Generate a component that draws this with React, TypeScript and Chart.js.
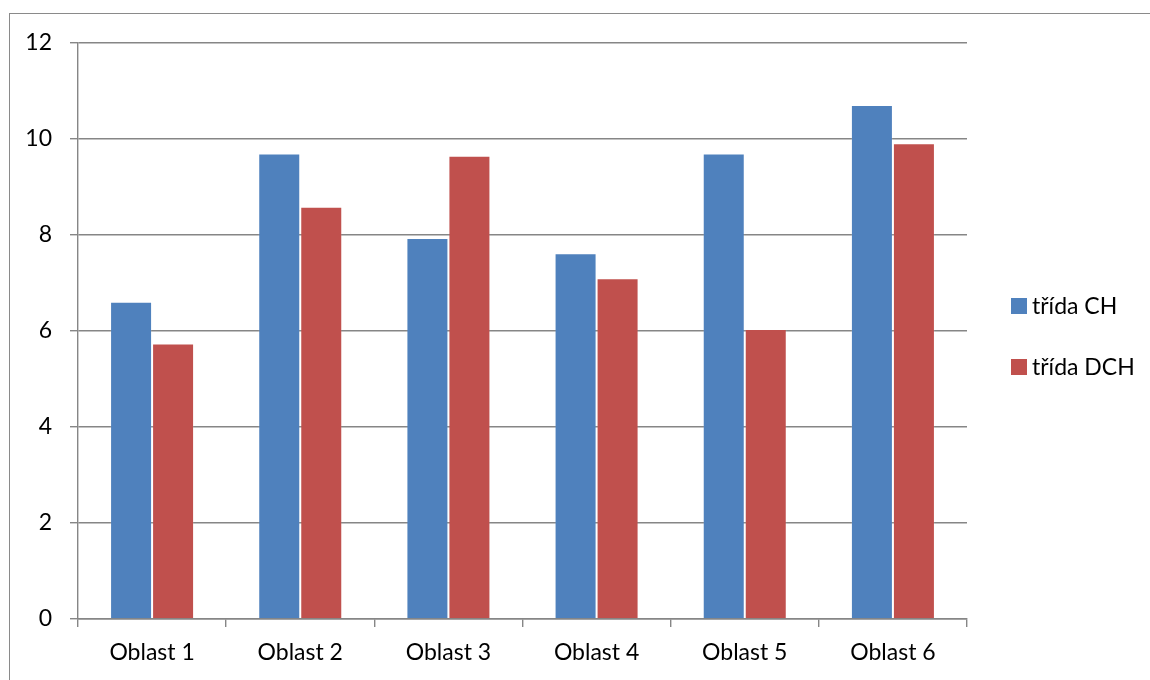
import React, { useEffect, useRef } from "react";
import { Chart, registerables } from "chart.js";

Chart.register(...registerables);

const categories = ["Oblast 1", "Oblast 2", "Oblast 3", "Oblast 4", "Oblast 5", "Oblast 6"];
const tridaCH = [6.61, 9.7, 7.94, 7.62, 9.7, 10.71];
const tridaDCH = [5.74, 8.59, 9.65, 7.1, 6.04, 9.91];
const seriesNames = ["třída CH", "třída DCH"];
const seriesColors = ["#4F81BD", "#C0504D"];

const FONT = "Lato, 'Open Sans', sans-serif";
const GRID = "#868686";

const legendPlugin = {
  id: "sideLegend",
  afterDraw(chart: any) {
    const ctx = chart.ctx;
    const x = chart.chartArea.right + 44;
    const ys = [306, 367];
    ctx.save();
    chart.data.datasets.forEach((ds: any, i: number) => {
      const y = ys[i];
      ctx.fillStyle = ds.backgroundColor;
      ctx.fillRect(x, y - 8, 16, 16);
      ctx.fillStyle = "#000";
      ctx.font = `23px ${FONT}`;
      ctx.textBaseline = "middle";
      ctx.textAlign = "left";
      ctx.fillText(ds.label, x + 21, y + 1);
    });
    ctx.restore();
  },
};

export default function App() {
  const ref = useRef<HTMLCanvasElement | null>(null);
  useEffect(() => {
    if (!ref.current) return;
    const chart = new Chart(ref.current, {
      type: "bar",
      data: {
        labels: categories,
        datasets: [
          {
            label: seriesNames[0],
            data: tridaCH,
            backgroundColor: seriesColors[0],
            borderColor: "rgba(255,255,255,0.12)",
            borderWidth: 1,
            barPercentage: 1,
            categoryPercentage: 0.567,
          },
          {
            label: seriesNames[1],
            data: tridaDCH,
            backgroundColor: seriesColors[1],
            borderColor: "rgba(255,255,255,0.12)",
            borderWidth: 1,
            barPercentage: 1,
            categoryPercentage: 0.567,
          },
        ],
      },
      options: {
        responsive: false,
        animation: false,
        layout: { padding: { left: 0, top: 43, right: 183, bottom: 0 } },
        plugins: {
          legend: { display: false },
          tooltip: { enabled: false },
          title: { display: false },
        },
        scales: {
          x: {
            offset: true,
            grid: {
              offset: true,
              drawOnChartArea: false,
              drawTicks: true,
              tickLength: 8,
              color: GRID,
              lineWidth: 1.4,
            },
            border: { display: true, color: GRID, width: 1.4 },
            ticks: {
              color: "#000",
              font: { family: FONT, size: 23 },
              padding: 12,
              maxRotation: 0,
            },
            afterFit(scale: any) {
              scale.height = 61;
            },
          },
          y: {
            min: 0,
            max: 12,
            ticks: {
              stepSize: 2,
              color: "#000",
              font: { family: FONT, size: 23 },
              padding: 18,
            },
            grid: {
              drawOnChartArea: true,
              drawTicks: true,
              tickLength: 8,
              color: GRID,
              lineWidth: 1.4,
            },
            border: { display: true, color: GRID, width: 1.4 },
            afterFit(scale: any) {
              scale.width = 78;
            },
          },
        },
      },
      plugins: [legendPlugin],
    });
    return () => chart.destroy();
  }, []);

  return (
    <div
      style={{
        position: "absolute",
        left: 0,
        top: 0,
        width: 1150,
        height: 680,
        overflow: "hidden",
        background: "#fff",
      }}
    >
      <canvas ref={ref} width={1150} height={680} style={{ position: "absolute", left: 0, top: 0 }} />
      <div
        style={{
          position: "absolute",
          left: 9,
          top: 13,
          width: 1200,
          height: 720,
          border: "1.5px solid #8a8a8a",
          pointerEvents: "none",
        }}
      />
    </div>
  );
}
